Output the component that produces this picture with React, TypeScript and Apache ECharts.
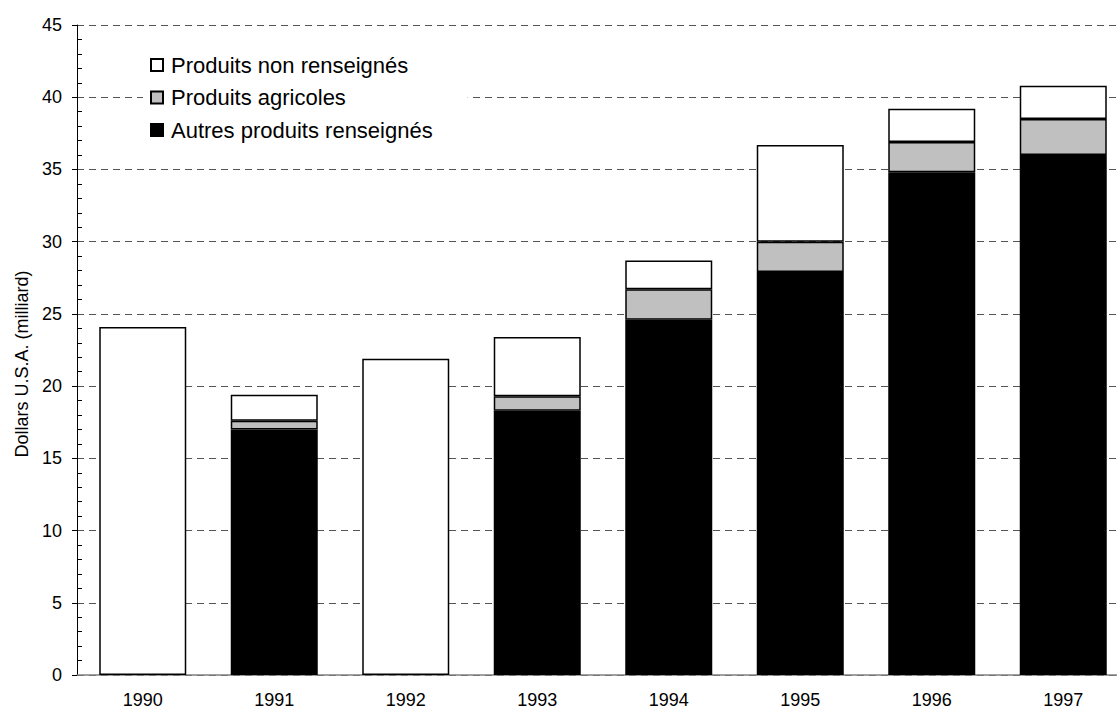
import React, { useEffect, useRef } from "react";
import * as echarts from "echarts";

const years = ["1990", "1991", "1992", "1993", "1994", "1995", "1996", "1997"];
const autres = [null, 17.0, null, 18.3, 24.6, 27.9, 34.8, 36.0];
const agricoles = [null, 0.6, null, 1.0, 2.1, 2.1, 2.1, 2.5];
const nonRenseignes = [24.1, 1.8, 21.9, 4.1, 2.0, 6.7, 2.3, 2.3];
const seriesNames = ["Produits non renseignés", "Produits agricoles", "Autres produits renseignés"];
const yAxisTitle = "Dollars U.S.A. (milliard)";

const FONT = "'Liberation Sans', Arial, sans-serif";

export default function App() {
  const ref = useRef<HTMLDivElement>(null);
  useEffect(() => {
    if (!ref.current) return;
    const chart = echarts.init(ref.current, null, { renderer: "svg" });
    const barBase = {
      type: "bar" as const,
      stack: "total",
      barWidth: 87,
      itemStyle: { borderColor: "#000", borderWidth: 1.5 },
    };
    chart.setOption({
      animation: false,
      backgroundColor: "#fff",
      textStyle: { fontFamily: FONT },
      grid: { left: 77, top: 25, width: 1052, height: 650, containLabel: false, outerBoundsMode: "none" },
      legend: {
        orient: "vertical",
        left: 143,
        top: 48,
        padding: [6, 35, 6, 7],
        backgroundColor: "#fff",
        itemWidth: 12,
        itemHeight: 12,
        itemGap: 10.5,
        icon: "rect",
        data: seriesNames,
        textStyle: { fontSize: 22, lineHeight: 22, color: "#000", fontFamily: FONT, padding: [0, 0, 0, 3] },
      },
      xAxis: {
        type: "category",
        data: years,
        axisLine: { lineStyle: { color: "#808080", width: 1.5 } },
        axisTick: { show: false },
        axisLabel: { fontSize: 18, color: "#000", margin: 16, fontFamily: FONT },
      },
      yAxis: {
        type: "value",
        min: 0,
        max: 45,
        interval: 5,
        name: yAxisTitle,
        nameLocation: "middle",
        nameGap: 46,
        nameRotate: 90,
        nameTextStyle: { fontSize: 18, color: "#000", fontFamily: FONT, padding: [0, 28, 0, 0] },
        axisLine: { show: true, lineStyle: { color: "#000", width: 1 } },
        axisTick: { show: true, length: 5, lineStyle: { color: "#000" } },
        minorTick: { show: true, splitNumber: 5, length: -5, lineStyle: { color: "#000" } },
        axisLabel: { fontSize: 18, color: "#000", margin: 15, fontFamily: FONT },
        splitLine: { show: true, lineStyle: { color: "#555", type: [7, 5], width: 1 } },
      },
      series: [
        { ...barBase, name: seriesNames[2], data: autres, itemStyle: { ...barBase.itemStyle, color: "#000" } },
        { ...barBase, name: seriesNames[1], data: agricoles, itemStyle: { ...barBase.itemStyle, color: "#c0c0c0" } },
        { ...barBase, name: seriesNames[0], data: nonRenseignes, itemStyle: { ...barBase.itemStyle, color: "#fff" } },
      ],
    });
    return () => chart.dispose();
  }, []);
  return (
    <div
      ref={ref}
      style={{ position: "absolute", left: 0, top: 0, width: 1117, height: 711, background: "#fff" }}
    />
  );
}
